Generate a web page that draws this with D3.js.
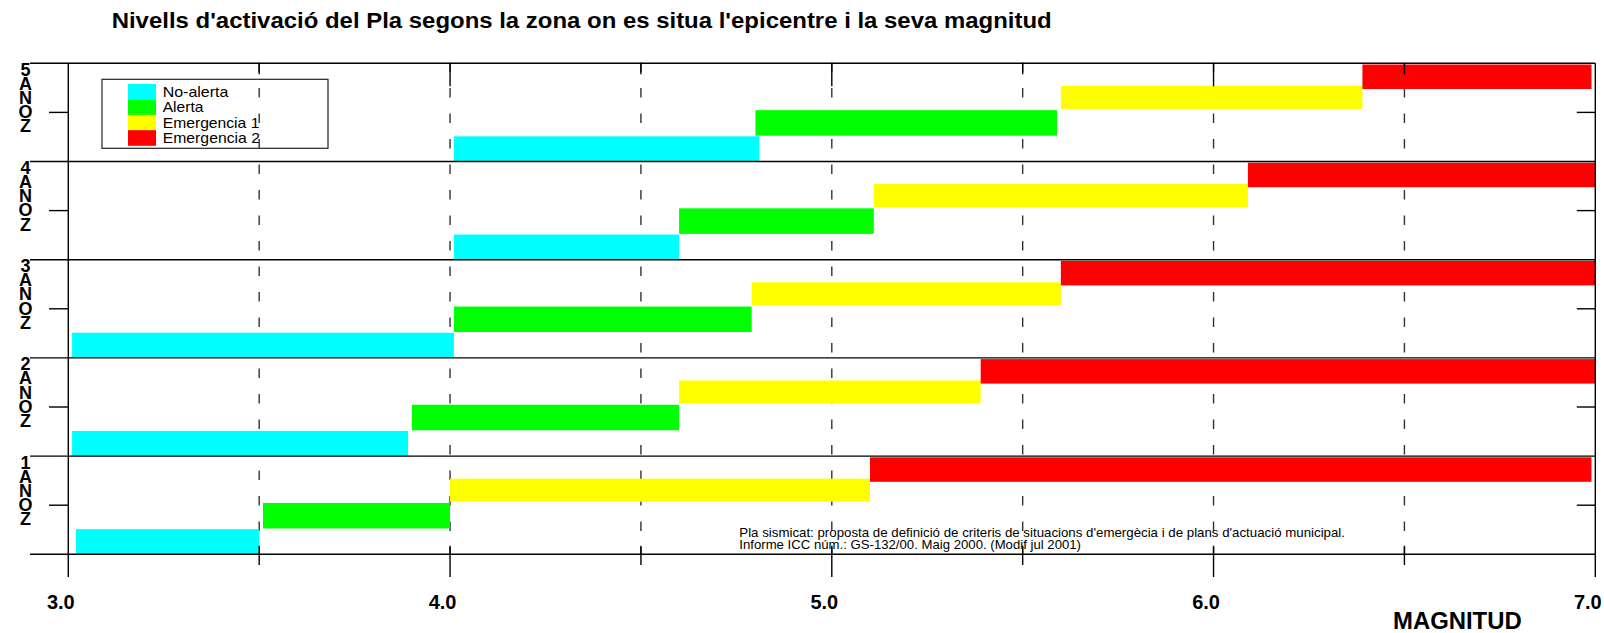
<!DOCTYPE html>
<html>
<head>
<meta charset="utf-8">
<script src="https://cdn.jsdelivr.net/npm/d3@7"></script>
<style>
  html, body { margin: 0; padding: 0; background: #fff; }
  svg { display: block; font-family: "Liberation Sans", Arial, sans-serif; }
</style>
</head>
<body>
<svg id="chart" width="1604" height="633"></svg>
<script>
// ---------- DATA ----------
const zones = [5, 4, 3, 2, 1];
const levels = ["No-alerta", "Alerta", "Emergencia 1", "Emergencia 2"];
const levelColors = ["#00ffff", "#00ff00", "#ffff00", "#ff0000"];
// [start, end] magnitude for each zone 1..5
const noAlerta    = [[3.02, 3.50], [3.01, 3.89], [3.01, 4.01], [4.01, 4.60], [4.01, 4.81]];
const alerta      = [[3.51, 4.00], [3.90, 4.60], [4.01, 4.79], [4.60, 5.11], [4.80, 5.59]];
const emergencia1 = [[4.00, 5.10], [4.60, 5.39], [4.79, 5.60], [5.11, 6.09], [5.60, 6.39]];
const emergencia2 = [[5.10, 6.99], [5.39, 7.00], [5.60, 7.00], [6.09, 7.00], [6.39, 6.99]];
const majorTicks = [3.0, 4.0, 5.0, 6.0, 7.0];
const minorTicks = [3.5, 4.5, 5.5, 6.5];
const gridTicks = [3.5, 4.0, 4.5, 5.0, 5.5, 6.0, 6.5];
const zoneLetters = ["A", "N", "O", "Z"];
const titleText = "Nivells d'activació del Pla segons la zona on es situa l'epicentre i la seva magnitud";
const xTitle = "MAGNITUD";
const footnote = [
  "Pla sismicat: proposta de definició de criteris de situacions d'emergècia i de plans d'actuació municipal.",
  "Informe ICC núm.: GS-132/00. Maig 2000. (Modif jul 2001)"
];

(function () {
// ---------- LAYOUT ----------
const svg = d3.select("#chart");
const pLeft = 68.3, pRight = 1595.3, pTop = 63.3, pBottom = 554.3;
const x = d3.scaleLinear().domain([3, 7]).range([pLeft, pRight]);
const y = d3.scaleBand().domain(zones).range([pTop, pBottom]).paddingInner(0).paddingOuter(0);
const bw = y.bandwidth();
const rowCenter = d3.scaleOrdinal().domain(levels).range([0.871, 0.607, 0.347, 0.137]);
const rowHeight = d3.scaleOrdinal().domain(levels).range([25, 25.5, 23, 24.5]);
const color = d3.scaleOrdinal().domain(levels).range(levelColors);
const legendTextWidth = d3.scaleOrdinal().domain(levels).range([65.7, 40.7, 96.7, 97.3]);

const seriesByLevel = [noAlerta, alerta, emergencia1, emergencia2];
const bars = [];
zones.forEach(z => {
  levels.forEach((lv, i) => {
    const r = seriesByLevel[i][z - 1];
    bars.push({ zone: z, level: lv, start: r[0], end: r[1] });
  });
});

// ---------- TITLE ----------
svg.append("text")
  .attr("x", 111.7).attr("y", 28.3)
  .attr("font-size", 22.3).attr("font-weight", "bold").attr("fill", "#000")
  .attr("textLength", 940).attr("lengthAdjust", "spacingAndGlyphs")
  .text(titleText);

// ---------- LEGEND (no fill, below grid) ----------
const lg = svg.append("g");
lg.append("rect").attr("x", 102).attr("y", 79.3).attr("width", 226).attr("height", 69)
  .attr("fill", "none").attr("stroke", "#222").attr("stroke-width", 1.2);
levels.forEach((lv, i) => {
  lg.append("rect").attr("x", 128).attr("y", 84 + i * 15.4).attr("width", 28).attr("height", 15.6)
    .attr("fill", color(lv));
  lg.append("text").attr("x", 162.7).attr("y", 96.7 + i * 15.5)
    .attr("font-size", 14.8).attr("fill", "#000")
    .attr("textLength", legendTextWidth(lv)).attr("lengthAdjust", "spacingAndGlyphs")
    .text(lv);
});

// ---------- DASHED GRID ----------
svg.append("g").selectAll("line").data(gridTicks).join("line")
  .attr("x1", d => x(d)).attr("x2", d => x(d))
  .attr("y1", pTop - 0.8).attr("y2", pBottom)
  .attr("stroke", "#333").attr("stroke-width", 1.4)
  .attr("stroke-dasharray", "9.5,16");

// ---------- BARS ----------
svg.append("g").selectAll("rect").data(bars).join("rect")
  .attr("x", d => x(d.start))
  .attr("width", d => x(d.end) - x(d.start))
  .attr("y", d => y(d.zone) + rowCenter(d.level) * bw - rowHeight(d.level) / 2)
  .attr("height", d => rowHeight(d.level))
  .attr("fill", d => color(d.level));

// ---------- FRAME / AXES ----------
const ax = svg.append("g").attr("stroke", "#000").attr("stroke-width", 1.4);
const hLines = zones.map(z => y(z)).concat([pBottom]);
ax.selectAll("line.h").data(hLines).join("line").attr("class", "h")
  .attr("x1", 30).attr("x2", pRight).attr("y1", d => d).attr("y2", d => d);
ax.append("line").attr("x1", pLeft).attr("x2", pLeft).attr("y1", pTop).attr("y2", 577);
ax.append("line").attr("x1", pRight).attr("x2", pRight).attr("y1", pTop).attr("y2", 577);
zones.forEach(z => {
  const ym = y(z) + bw / 2;
  ax.append("line").attr("x1", 49).attr("x2", pLeft).attr("y1", ym).attr("y2", ym);
  ax.append("line").attr("x1", pRight - 18.5).attr("x2", pRight).attr("y1", ym).attr("y2", ym);
});
ax.selectAll("line.bmaj").data(majorTicks.slice(1, 4)).join("line").attr("class", "bmaj")
  .attr("x1", d => x(d)).attr("x2", d => x(d)).attr("y1", 545.7).attr("y2", 577);
ax.selectAll("line.bmin").data(minorTicks).join("line").attr("class", "bmin")
  .attr("x1", d => x(d)).attr("x2", d => x(d)).attr("y1", 545.7).attr("y2", 565);
ax.selectAll("line.tmaj").data(majorTicks.slice(1, 4)).join("line").attr("class", "tmaj")
  .attr("x1", d => x(d)).attr("x2", d => x(d)).attr("y1", pTop).attr("y2", pTop + 23);
ax.selectAll("line.tmin").data(minorTicks).join("line").attr("class", "tmin")
  .attr("x1", d => x(d)).attr("x2", d => x(d)).attr("y1", pTop).attr("y2", pTop + 11);

// ---------- TICK LABELS ----------
svg.append("g").selectAll("text").data(majorTicks).join("text")
  .attr("x", d => x(d) - 7.5).attr("y", 609)
  .attr("text-anchor", "middle").attr("font-size", 20).attr("font-weight", "bold")
  .text(d => d.toFixed(1));

svg.append("text").attr("x", 1393).attr("y", 629)
  .attr("font-size", 23.5).attr("font-weight", "bold")
  .attr("textLength", 128.7).attr("lengthAdjust", "spacingAndGlyphs")
  .text(xTitle);

// ---------- ZONE LABELS (stacked letters) ----------
zones.forEach(z => {
  const chars = [String(z)].concat(zoneLetters);
  svg.append("g").selectAll("text").data(chars).join("text")
    .attr("x", 25.5)
    .attr("y", (d, i) => y(z) + 12.4 + i * 14.15)
    .attr("text-anchor", "middle").attr("font-size", 18).attr("font-weight", "bold")
    .text(d => d);
});

// ---------- FOOTNOTE ----------
const footWidths = [605.7, 341.7];
svg.append("g").selectAll("text").data(footnote).join("text")
  .attr("x", 739.3).attr("y", (d, i) => 536.7 + i * 12.4)
  .attr("font-size", 12.6).attr("fill", "#000")
  .attr("textLength", (d, i) => footWidths[i]).attr("lengthAdjust", "spacingAndGlyphs")
  .text(d => d);
})();
</script>
</body>
</html>
